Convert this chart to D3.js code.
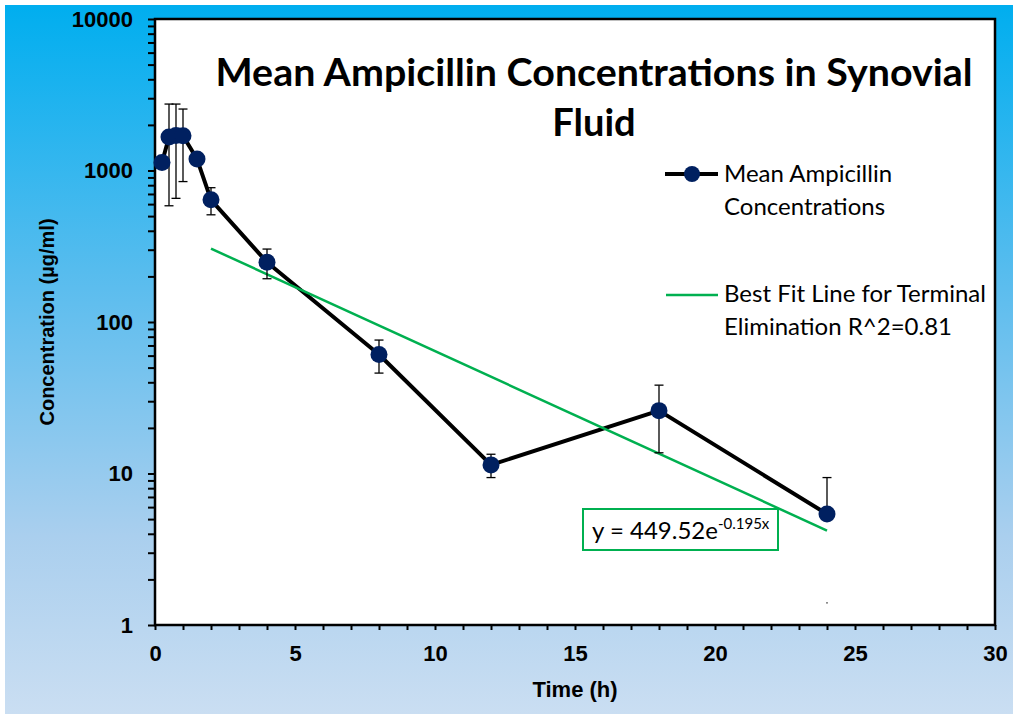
<!DOCTYPE html>
<html>
<head>
<meta charset="utf-8">
<script src="https://cdn.jsdelivr.net/npm/d3@7"></script>
<style>
    body { margin: 0; background: #fff; }
    svg { display: block; }
</style>
</head>
<body>
<script>
//sampling times (h)
var times = [0.25, 0.5, 0.75, 1, 1.5, 2, 4, 8, 12, 18, 24];
//mean ampicillin concentration (ug/ml)
var means = [1130, 1665, 1700, 1695, 1190, 640, 248, 61, 11.4, 26, 5.4];
//error bar half widths (0 = no bar drawn)
var errs = [0, 1080, 1045, 850, 0, 130, 55, 15, 2, 12.3, 4.0];
//lower whisker drawn as full line or not
var lowerShown = [true, true, true, true, true, true, true, true, true, true, false];
//best fit line end points
var fitX = [2, 24];
var fitY = [305, 4.2];
//axis ticks
var xTicks = d3.range(0, 31, 1);
var xLabels = [0, 5, 10, 15, 20, 25, 30];
var yLabels = [1, 10, 100, 1000, 10000];
var titleLines = ["Mean Ampicillin Concentrations in Synovial", "Fluid"];
var legendLines = [["Mean Ampicillin", "Concentrations"], ["Best Fit Line for Terminal", "Elimination R^2=0.81"]];

(function(){
    var width = 1013,
        height = 714;

    var svg = d3.select("body")
        .append("svg")
        .attr("width", width)
        .attr("height", height);

    //background gradient
    var grad = svg.append("defs").append("linearGradient")
        .attr("id", "bg")
        .attr("x1", 0).attr("y1", 0).attr("x2", 0).attr("y2", 1);
    grad.append("stop").attr("offset", "0%").attr("stop-color", "#00aeef");
    grad.append("stop").attr("offset", "40%").attr("stop-color", "#5cbdee");
    grad.append("stop").attr("offset", "75%").attr("stop-color", "#aacfee");
    grad.append("stop").attr("offset", "100%").attr("stop-color", "#cadef2");

    svg.append("rect")
        .attr("x", 5).attr("y", 5)
        .attr("width", width - 5).attr("height", height - 5)
        .attr("fill", "url(#bg)");

    //plot frame
    var left = 155, right = 995, top = 19, bottom = 625;

    var x = d3.scaleLinear().domain([0, 30]).range([left, right]);
    var y = d3.scaleLog().domain([1, 10000]).range([bottom, top]);

    svg.append("rect")
        .attr("x", left).attr("y", top)
        .attr("width", right - left).attr("height", bottom - top)
        .attr("fill", "#fff");

    //y axis with log minor ticks
    var yTicks = [];
    yLabels.forEach(function(d){
        if (d < 10000){
            for (var m = 1; m < 10; m++) yTicks.push(d * m);
        } else {
            yTicks.push(d);
        }
    });

    var yAxis = svg.append("g")
        .attr("transform", "translate(" + left + ",0)")
        .call(d3.axisLeft(y)
            .tickValues(yTicks)
            .tickSize(7)
            .tickSizeOuter(0)
            .tickPadding(15)
            .tickFormat(function(d){
                return yLabels.indexOf(d) >= 0 ? d : "";
            }));
    yAxis.select(".domain").remove();
    yAxis.selectAll("line").attr("stroke", "#000").attr("stroke-width", 2);
    yAxis.selectAll("text")
        .attr("font-family", "'Liberation Sans', Arial, sans-serif")
        .attr("font-weight", "bold")
        .attr("font-size", 22)
        .attr("fill", "#000");

    //x axis
    var xAxis = svg.append("g")
        .attr("transform", "translate(0," + bottom + ")")
        .call(d3.axisBottom(x)
            .tickValues(xTicks)
            .tickSize(5)
            .tickSizeOuter(0)
            .tickPadding(15)
            .tickFormat(function(d){
                return xLabels.indexOf(d) >= 0 ? d : "";
            }));
    xAxis.select(".domain").remove();
    xAxis.selectAll("line").attr("stroke", "#000").attr("stroke-width", 2);
    xAxis.selectAll("text")
        .attr("font-family", "'Liberation Sans', Arial, sans-serif")
        .attr("font-weight", "bold")
        .attr("font-size", 22)
        .attr("fill", "#000");

    //frame border on top of ticks
    svg.append("rect")
        .attr("x", left).attr("y", top)
        .attr("width", right - left).attr("height", bottom - top)
        .attr("fill", "none")
        .attr("stroke", "#000")
        .attr("stroke-width", 2.5);

    //axis titles
    svg.append("text")
        .attr("x", (left + right) / 2)
        .attr("y", 697)
        .attr("text-anchor", "middle")
        .attr("font-family", "'Liberation Sans', Arial, sans-serif")
        .attr("font-weight", "bold")
        .attr("font-size", 22)
        .text("Time (h)");

    svg.append("text")
        .attr("transform", "translate(54,322) rotate(-90)")
        .attr("text-anchor", "middle")
        .attr("font-family", "'Liberation Sans', Arial, sans-serif")
        .attr("font-weight", "bold")
        .attr("font-size", 20)
        .text("Concentration (\u00b5g/ml)");

    //title
    svg.append("text")
        .attr("x", 594).attr("y", 86)
        .attr("text-anchor", "middle")
        .attr("font-family", "Lato, 'Open Sans', sans-serif")
        .attr("font-weight", "bold")
        .attr("font-size", 38)
        .attr("textLength", 757)
        .attr("lengthAdjust", "spacingAndGlyphs")
        .text(titleLines[0]);
    svg.append("text")
        .attr("x", 594).attr("y", 136)
        .attr("text-anchor", "middle")
        .attr("font-family", "Lato, 'Open Sans', sans-serif")
        .attr("font-weight", "bold")
        .attr("font-size", 38)
        .text(titleLines[1]);

    //data series line
    var pts = times.map(function(t, i){ return [t, means[i]]; });
    var line = d3.line()
        .x(function(d){ return x(d[0]); })
        .y(function(d){ return y(d[1]); });

    svg.append("path")
        .datum(pts)
        .attr("d", line)
        .attr("fill", "none")
        .attr("stroke", "#000")
        .attr("stroke-width", 4)
        .attr("stroke-linejoin", "round");

    //best fit line
    svg.append("path")
        .datum(fitX.map(function(t, i){ return [t, fitY[i]]; }))
        .attr("d", line)
        .attr("fill", "none")
        .attr("stroke", "#00b050")
        .attr("stroke-width", 2.5);

    //error bars
    var eb = svg.append("g")
        .attr("stroke", "#000")
        .attr("stroke-width", 1.3);
    times.forEach(function(t, i){
        if (!errs[i]) return;
        var cx = x(t), hi = y(means[i] + errs[i]), lo = y(means[i] - errs[i]);
        eb.append("line").attr("x1", cx).attr("x2", cx).attr("y1", hi).attr("y2", y(means[i]));
        eb.append("line").attr("x1", cx - 4.5).attr("x2", cx + 4.5).attr("y1", hi).attr("y2", hi);
        if (lowerShown[i]){
            eb.append("line").attr("x1", cx).attr("x2", cx).attr("y1", y(means[i])).attr("y2", lo);
            eb.append("line").attr("x1", cx - 4.5).attr("x2", cx + 4.5).attr("y1", lo).attr("y2", lo);
        } else {
            //only a speck of the lower cap is left in the source
            eb.append("line").attr("x1", cx - 0.6).attr("x2", cx + 0.6).attr("y1", lo).attr("y2", lo);
        }
    });

    //markers
    svg.selectAll(".pt")
        .data(pts)
        .enter()
        .append("circle")
        .attr("class", "pt")
        .attr("cx", function(d){ return x(d[0]); })
        .attr("cy", function(d){ return y(d[1]); })
        .attr("r", 8.5)
        .attr("fill", "#002060");

    //equation box
    svg.append("rect")
        .attr("x", 583).attr("y", 509)
        .attr("width", 195).attr("height", 41)
        .attr("fill", "#fff")
        .attr("stroke", "#00b050")
        .attr("stroke-width", 2);
    var eq = svg.append("text")
        .attr("x", 592).attr("y", 539)
        .attr("font-family", "Lato, 'Open Sans', sans-serif")
        .attr("font-size", 24);
    eq.append("tspan").text("y = 449.52e");
    eq.append("tspan")
        .attr("dy", -10)
        .attr("font-size", 15)
        .text("-0.195x");

    //legend
    var lg = svg.append("g");
    lg.append("line")
        .attr("x1", 665).attr("x2", 718).attr("y1", 174).attr("y2", 174)
        .attr("stroke", "#000").attr("stroke-width", 4);
    lg.append("circle")
        .attr("cx", 692).attr("cy", 174).attr("r", 8)
        .attr("fill", "#002060");
    lg.append("line")
        .attr("x1", 666).attr("x2", 718).attr("y1", 295).attr("y2", 295)
        .attr("stroke", "#00b050").attr("stroke-width", 2.5);

    var legendY = [[182, 215], [302, 335]];
    legendLines.forEach(function(pair, i){
        pair.forEach(function(s, j){
            lg.append("text")
                .attr("x", 724)
                .attr("y", legendY[i][j])
                .attr("font-family", "Lato, 'Open Sans', sans-serif")
                .attr("font-size", 24)
                .attr("fill", "#000")
                .text(s);
        });
    });
})();
</script>
</body>
</html>
